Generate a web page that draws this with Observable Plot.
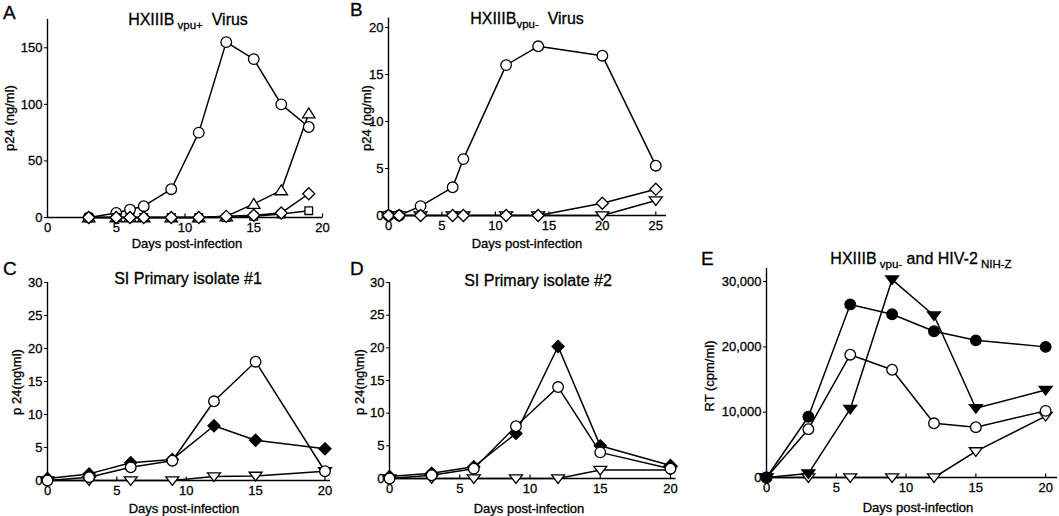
<!DOCTYPE html>
<html><head><meta charset="utf-8">
<script src="https://cdn.jsdelivr.net/npm/d3@7"></script>
<script src="https://cdn.jsdelivr.net/npm/@observablehq/plot@0.6"></script>
<style>
body{margin:0;background:#fff;}
#wrap{position:relative;width:1059px;height:516px;overflow:hidden;background:#fff;font-family:'Liberation Sans',Arial,Helvetica,sans-serif;color:#000;}
.t{position:absolute;white-space:nowrap;line-height:1;-webkit-text-stroke:0.3px #000;}
.letter{font-size:19px;}
.title{font-size:16px;transform:translateX(-50%);}
.title .sub{font-size:11.5px;position:relative;top:4px;}
.xl{font-size:13px;transform:translate(-50%,-50%);}
.yl{font-size:13px;transform:translate(-50%,-50%) rotate(-90deg);}
svg text{stroke:#000;stroke-width:0.3px;}
</style></head><body><div id="wrap"></div>
<script>
// ---------- Data ----------
// Panel A: HXIIIB vpu+ virus, p24 (ng/ml)
const daysA = [3, 5, 6, 7, 9, 11, 13, 15, 17, 19];
const aCircles = [0, 4, 7, 10, 25, 75, 155, 140, 100, 80];
const aTriangles = [0, 0, 0, 0, 0, 0, 1, 12, 24, 92];
const aSquares = [0, 0, 0, 0, 0, 0, 0, 1, 3, 6];
const aDiamonds = [0, 0, 0, 0, 0, 0, 1, 2, 4, 21];
const xTicksA = [0, 5, 10, 15, 20];
const yTicksA = [0, 50, 100, 150];

// Panel B: HXIIIB vpu- virus, p24 (ng/ml)
const daysB = [0, 1, 3, 6, 7, 11, 14, 20, 25];
const bCircles = [0, 0, 1, 3, 6, 16, 18, 17, 5.3];
const bTriangles = [0, 0, 0, 0, 0, 0, 0, 0, 1.6];
const bDiamonds = [0, 0, 0, 0, 0, 0, 0, 1.3, 2.8];
const xTicksB = [0, 5, 10, 15, 20, 25];
const yTicksB = [0, 5, 10, 15, 20];

// Panel C: SI primary isolate #1
const daysC = [0, 3, 6, 9, 12, 15, 20];
const cCircles = [0, 0.5, 2, 3, 12, 18, 1.4];
const cDiamonds = [0.3, 1, 2.7, 3.2, 8.3, 6.1, 4.8];
const cTriangles = [0, 0, 0, 0, 0.6, 0.7, 1.4];
const xTicksC = [0, 5, 10, 15, 20];
const yTicksC = [0, 5, 10, 15, 20, 25, 30];

// Panel D: SI primary isolate #2
const daysD = [0, 3, 6, 9, 12, 15, 20];
const dCircles = [0, 0.5, 1.5, 8, 14, 4, 1.5];
const dDiamonds = [0.3, 0.8, 1.8, 6.9, 20.2, 5, 2];
const dTriangles = [0, 0, 0, 0, 0, 1.3, 1.3];
const xTicksD = [0, 5, 10, 15, 20];
const yTicksD = [0, 5, 10, 15, 20, 25, 30];

// Panel E: HXIIIB vpu- and HIV-2 NIH-Z, RT (cpm/ml)
const daysE = [0, 3, 6, 9, 12, 15, 20];
const eFilledCircles = [0, 9300, 26500, 25000, 22400, 21000, 20000];
const eOpenCircles = [0, 7400, 18800, 16500, 8300, 7700, 10200];
const eFilledTriangles = [0, 600, 10500, 30300, 24800, 10600, 13400];
const eOpenTriangles = [0, 0, 0, 0, 0, 4000, 9400];
const xTicksE = [0, 5, 10, 15, 20];
const yTicksE = [0, 10000, 20000, 30000];

// ---------- Symbols ----------
function sym(fn){ return {draw(ctx, size){ const r = Math.sqrt(size / Math.PI); fn(ctx, r); }}; }
const diamondSym = sym((c, r) => { c.moveTo(0, -r); c.lineTo(r, 0); c.lineTo(0, r); c.lineTo(-r, 0); c.closePath(); });
const triUpSym = sym((c, r) => { c.moveTo(0, -1.05 * r); c.lineTo(1.2 * r, 0.85 * r); c.lineTo(-1.2 * r, 0.85 * r); c.closePath(); });
const triDownSym = sym((c, r) => { c.moveTo(-1.25 * r, -0.7 * r); c.lineTo(1.25 * r, -0.7 * r); c.lineTo(0, 0.95 * r); c.closePath(); });
const squareSym = sym((c, r) => { c.rect(-r, -r, 2 * r, 2 * r); });
const tickSym = {draw(c){ c.moveTo(0, 0); c.lineTo(0, -4); }};

const M = {
  circle: {symbol: "circle", r: 5.3},
  diamond: {symbol: diamondSym, r: 6},
  triUp: {symbol: triUpSym, r: 5.2},
  triDown: {symbol: triDownSym, r: 5.2},
  square: {symbol: squareSym, r: 3.8}
};

const wrap = document.getElementById("wrap");

function drawPanel(cfg){
  const rows = [];
  cfg.series.forEach((s, k) => s.values.forEach((v, i) => rows.push({day: cfg.days[i], value: v, series: k})));
  const marks = [
    Plot.ruleY([0], {x1: cfg.xDomain[0], x2: cfg.xDomain[1], stroke: "black", strokeWidth: 1.4}),
    Plot.ruleX([0], {y1: cfg.yDomain[0], y2: cfg.yDomain[1], stroke: "black", strokeWidth: 1.4}),
    Plot.dot(cfg.xTicks.filter(t => t > 0), {x: d => d, y: () => 0, symbol: tickSym, r: 3, stroke: "black", fill: "none", strokeWidth: 1.2}),
    Plot.line(rows, {x: "day", y: "value", z: "series", stroke: "black", strokeWidth: 1.5})
  ];
  cfg.series.forEach((s, k) => {
    const m = M[s.marker];
    marks.push(Plot.dot(rows.filter(d => d.series === k), {
      x: "day", y: "value", symbol: m.symbol, r: m.r,
      fill: s.filled ? "black" : "white", stroke: "black", strokeWidth: 1.3
    }));
  });
  const svg = Plot.plot({
    width: cfg.width, height: cfg.height,
    marginLeft: cfg.ml, marginRight: cfg.mr, marginTop: cfg.mt, marginBottom: cfg.mb,
    x: {domain: cfg.xDomain, ticks: cfg.xTicks, tickSize: 0, tickPadding: 5, label: null},
    y: {domain: cfg.yDomain, ticks: cfg.yTicks, tickSize: 3, tickPadding: 2, label: null, tickFormat: cfg.yFormat || (d => String(d))},
    style: {background: "transparent", font: "13px 'Liberation Sans', Arial, sans-serif", color: "black", overflow: "visible"},
    marks
  });
  svg.style.position = "absolute";
  svg.style.left = cfg.left + "px";
  svg.style.top = cfg.top + "px";
  wrap.appendChild(svg);
}

drawPanel({left: 0, top: 0, width: 340, height: 250, ml: 47, mr: 18, mt: 19, mb: 33,
  xDomain: [0, 20], yDomain: [0, 175], xTicks: xTicksA, yTicks: yTicksA, days: daysA,
  series: [
    {values: aCircles, marker: "circle"},
    {values: aTriangles, marker: "triUp"},
    {values: aSquares, marker: "square"},
    {values: aDiamonds, marker: "diamond"}
  ]});

drawPanel({left: 340, top: 0, width: 340, height: 250, ml: 48, mr: 14, mt: 17.6, mb: 35,
  xDomain: [0, 26], yDomain: [0, 21], xTicks: xTicksB, yTicks: yTicksB, days: daysB,
  series: [
    {values: bCircles, marker: "circle"},
    {values: bTriangles, marker: "triDown"},
    {values: bDiamonds, marker: "diamond"}
  ]});

drawPanel({left: 0, top: 250, width: 340, height: 266, ml: 47, mr: 10, mt: 32, mb: 36,
  xDomain: [0, 20.4], yDomain: [0, 30], xTicks: xTicksC, yTicks: yTicksC, days: daysC,
  series: [
    {values: cTriangles, marker: "triDown"},
    {values: cDiamonds, marker: "diamond", filled: true},
    {values: cCircles, marker: "circle"}
  ]});

drawPanel({left: 340, top: 250, width: 350, height: 266, ml: 49, mr: 14.4, mt: 32, mb: 38,
  xDomain: [0, 20.4], yDomain: [0, 30], xTicks: xTicksD, yTicks: yTicksD, days: daysD,
  series: [
    {values: dTriangles, marker: "triDown"},
    {values: dDiamonds, marker: "diamond", filled: true},
    {values: dCircles, marker: "circle"}
  ]});

drawPanel({left: 690, top: 250, width: 369, height: 266, ml: 76, mr: 2, mt: 18, mb: 39,
  xDomain: [0, 20.85], yDomain: [0, 32000], xTicks: xTicksE, yTicks: yTicksE, days: daysE,
  yFormat: d3.format(","),
  series: [
    {values: eOpenTriangles, marker: "triDown"},
    {values: eOpenCircles, marker: "circle"},
    {values: eFilledTriangles, marker: "triDown", filled: true},
    {values: eFilledCircles, marker: "circle", filled: true}
  ]});

// ---------- Text ----------
function addText(cls, html, left, top){
  const d = document.createElement("div");
  d.className = "t " + cls;
  d.innerHTML = html;
  d.style.left = left + "px";
  d.style.top = top + "px";
  wrap.appendChild(d);
}
addText("letter", "A", 3, 3);
addText("letter", "B", 350, 0);
addText("letter", "C", 3, 259);
addText("letter", "D", 350, 259);
addText("letter", "E", 701, 249);

addText("title", "HXIIIB<span class='sub'>&nbsp;vpu+</span>&nbsp; Virus", 188, 12);
addText("title", "HXIIIB<span class='sub'>vpu-</span>&nbsp; Virus", 527, 11);
addText("title", "SI Primary isolate #1", 188, 271);
addText("title", "SI Primary isolate #2", 538, 273);
addText("title", "HXIIIB<span class='sub'>&nbsp;vpu-</span> and HIV-2<span class='sub'>&nbsp;NIH-Z</span>", 921, 251);

addText("yl", "p24 (ng/ml)", 9, 118);
addText("yl", "p24 (ng/ml)", 366, 118);
addText("yl", "p 24(ng\\ml)", 16, 382);
addText("yl", "p 24(ng\\ml)", 359, 382);
addText("yl", "RT (cpm/ml)", 709, 376);

addText("xl", "Days post-infection", 187, 243);
addText("xl", "Days post-infection", 527, 243);
addText("xl", "Days post-infection", 184, 508);
addText("xl", "Days post-infection", 529, 508);
addText("xl", "Days post-infection", 918, 507);
</script>
</body></html>
